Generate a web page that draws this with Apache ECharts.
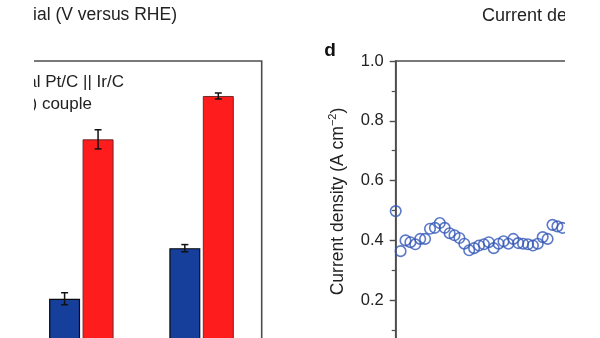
<!DOCTYPE html>
<html>
<head>
<meta charset="utf-8">
<script src="https://cdn.jsdelivr.net/npm/echarts@6/dist/echarts.min.js"></script>
<style>
  html, body { margin: 0; padding: 0; background: #ffffff; width: 600px; height: 338px; overflow: hidden; }
  #chart { position: absolute; left: 34px; top: 0; width: 531px; height: 338px; }
</style>
</head>
<body>
<div id="chart"></div>
<script>
// Panel c: current density of the two electrolyser couples at two cell potentials
const barCategories = ['1.6 V', '1.8 V'];
const pairCouple = [0.205, 0.374];      // blue bars
const pairCoupleErr = [0.02, 0.012];
const ptIrCouple = [0.738, 0.883];      // red bars
const ptIrCoupleErr = [0.032, 0.01];

// Panel d: current density over time during the stability run
const timeHours = [0, 1, 2, 3, 4, 5, 6, 7, 8, 9, 10, 11, 12, 13, 14, 15, 16, 17,
                   18, 19, 20, 21, 22, 23, 24, 25, 26, 27, 28, 29, 30, 31, 32, 33, 34];
const currentDensity = [0.498, 0.364, 0.400, 0.394, 0.387, 0.405, 0.405, 0.439, 0.442,
                        0.458, 0.442, 0.424, 0.417, 0.408, 0.389, 0.367, 0.374, 0.383,
                        0.387, 0.394, 0.374, 0.389, 0.397, 0.389, 0.405, 0.391, 0.389,
                        0.387, 0.383, 0.389, 0.411, 0.405, 0.452, 0.447, 0.442];
const densityTicks = [0.2, 0.4, 0.6, 0.8, 1.0];

const BAR_W = 31;
const BAR_GAP = 0.08;
const barOffset = (BAR_W * (1 + BAR_GAP)) / 2;
const axisGrey = '#4d4d4d';
const textColor = '#222222';
const font = '"Liberation Sans", Arial, sans-serif';

function errorSeries(values, errs, dx) {
  return {
    type: 'custom',
    xAxisIndex: 0, yAxisIndex: 0,
    z: 5,
    data: values.map((v, i) => [i, v, errs[i]]),
    encode: { x: 0, y: 1 },
    renderItem: function (params, api) {
      const i = api.value(0), v = api.value(1), e = api.value(2);
      const hi = api.coord([i, v + e]);
      const lo = api.coord([i, v - e]);
      const x = hi[0] + dx;
      const cap = 3.5;
      const st = { stroke: '#111', lineWidth: 1.5 };
      return {
        type: 'group',
        children: [
          { type: 'line', shape: { x1: x, y1: hi[1], x2: x, y2: lo[1] }, style: st },
          { type: 'line', shape: { x1: x - cap, y1: hi[1], x2: x + cap, y2: hi[1] }, style: st },
          { type: 'line', shape: { x1: x - cap, y1: lo[1], x2: x + cap, y2: lo[1] }, style: st }
        ]
      };
    }
  };
}

const chart = echarts.init(document.getElementById('chart'), null, { renderer: 'canvas' });
chart.setOption({
  backgroundColor: '#ffffff',
  animation: false,
  textStyle: { fontFamily: font },
  grid: [
    { left: -12.8, top: 61, width: 240.5, height: 299, show: true, containLabel: false,
      outerBoundsMode: 'none',
      borderColor: axisGrey, borderWidth: 1.6, backgroundColor: 'transparent' },
    { left: 361.7, top: 61, width: 490, height: 299, show: true, containLabel: false,
      outerBoundsMode: 'none',
      borderColor: axisGrey, borderWidth: 1.6, backgroundColor: 'transparent' }
  ],
  xAxis: [
    { gridIndex: 0, type: 'category', data: barCategories, show: false },
    { gridIndex: 1, type: 'value', min: 0, max: 100, show: false }
  ],
  yAxis: [
    { gridIndex: 0, type: 'value', min: 0, max: 1, show: false },
    {
      gridIndex: 1, type: 'value', min: 0, max: 1, interval: 0.2,
      axisLine: { show: true, lineStyle: { color: axisGrey, width: 1.6 } },
      axisTick: { show: true, inside: false, length: 6, lineStyle: { color: axisGrey, width: 1.4 } },
      minorTick: { show: true, splitNumber: 2, length: 4, lineStyle: { color: axisGrey, width: 1.2 } },
      splitLine: { show: false },
      axisLabel: {
        margin: 12, fontSize: 16.5, color: textColor, fontFamily: font,
        formatter: v => (densityTicks.some(t => Math.abs(t - v) < 1e-9) ? v.toFixed(1) : '')
      },
      name: 'Current density (A cm{sup|−2})',
      nameLocation: 'middle',
      nameRotate: 90,
      nameGap: 48,
      nameTextStyle: {
        fontSize: 17.5, color: textColor, fontFamily: font, lineHeight: 20,
        padding: [0, 0, 0, 18],
        rich: { sup: { fontSize: 11, color: textColor, verticalAlign: 'top', lineHeight: 20 } }
      }
    }
  ],
  series: [
    {
      type: 'bar', xAxisIndex: 0, yAxisIndex: 0,
      data: pairCouple, barWidth: BAR_W, barGap: (BAR_GAP * 100) + '%',
      itemStyle: { color: '#163e9b', borderColor: '#0a0a0a', borderWidth: 1.2 }
    },
    {
      type: 'bar', xAxisIndex: 0, yAxisIndex: 0,
      data: ptIrCouple, barWidth: BAR_W, barGap: (BAR_GAP * 100) + '%',
      itemStyle: { color: '#fe1c1c', borderColor: '#6e2a2a', borderWidth: 1 }
    },
    errorSeries(pairCouple, pairCoupleErr, -barOffset),
    errorSeries(ptIrCouple, ptIrCoupleErr, barOffset),
    {
      type: 'scatter', xAxisIndex: 1, yAxisIndex: 1,
      data: timeHours.map((t, i) => [t, currentDensity[i]]),
      symbol: 'circle', symbolSize: 10.5,
      itemStyle: { color: 'rgba(255,255,255,0)', borderColor: '#3357b8', borderWidth: 1.6 },
      clip: false, z: 4
    }
  ],
  graphic: [
    { type: 'text', x: 143, y: 15,
      style: { text: 'Potential (V versus RHE)', font: '17.5px ' + font, fill: textColor,
               textAlign: 'right', textVerticalAlign: 'middle' } },
    { type: 'text', x: 448, y: 16,
      style: { text: 'Current density (A cm⁻²)', font: '18px ' + font, fill: textColor,
               textAlign: 'left', textVerticalAlign: 'middle' } },
    { type: 'text', x: 296, y: 51,
      style: { text: 'd', font: 'bold 19px ' + font, fill: '#111',
               textAlign: 'center', textVerticalAlign: 'middle' } },
    { type: 'text', x: 90, y: 82,
      style: { text: 'Commercial Pt/C || Ir/C', font: '17px ' + font, fill: textColor,
               textAlign: 'right', textVerticalAlign: 'middle' } },
    { type: 'text', x: 58, y: 104,
      style: { text: 'NiMoO || NiFeOOH (NFO) couple', font: '17px ' + font, fill: textColor,
               textAlign: 'right', textVerticalAlign: 'middle' } }
  ]
});
</script>
</body>
</html>
